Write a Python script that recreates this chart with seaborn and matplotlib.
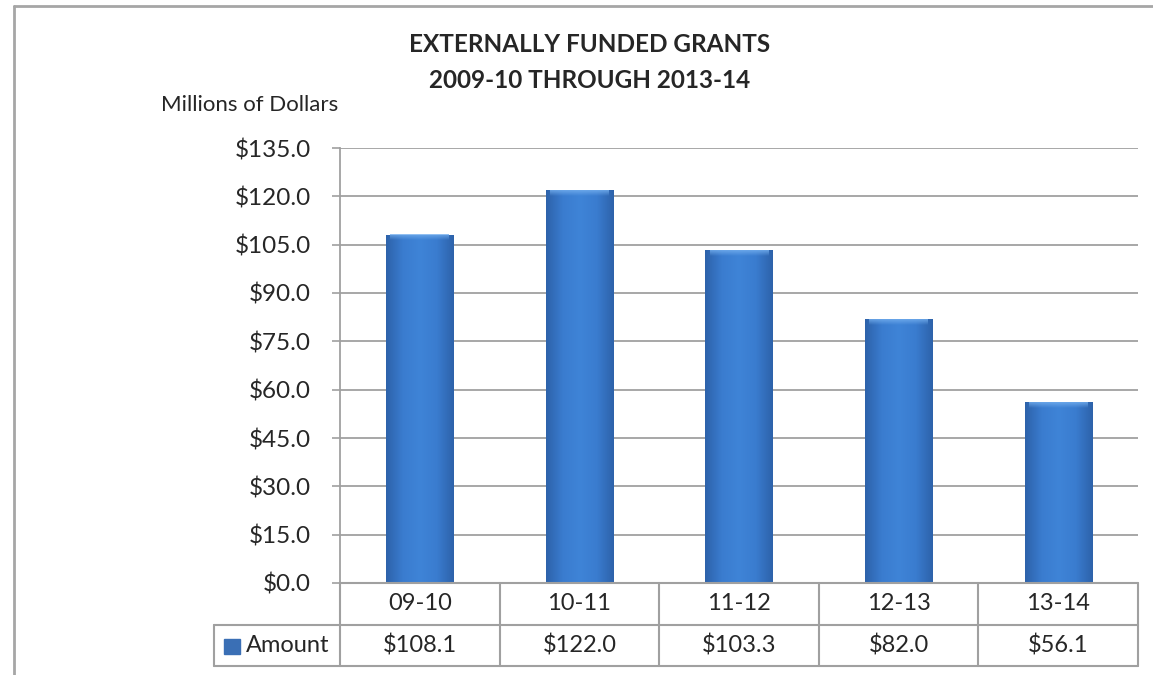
import numpy as np
import pandas as pd
import matplotlib
matplotlib.use("Agg")
import matplotlib.pyplot as plt
import matplotlib.transforms as mtransforms
from matplotlib.colors import LinearSegmentedColormap
import seaborn as sns

categories = ["09-10", "10-11", "11-12", "12-13", "13-14"]
amounts = [108.1, 122.0, 103.3, 82.0, 56.1]
y_ticks = [0, 15, 30, 45, 60, 75, 90, 105, 120, 135]
series_name = "Amount"

sns.set_theme(style="white")
plt.rcParams["font.family"] = ["Lato", "DejaVu Sans"]

W, H = 1153, 675
fig = plt.figure(figsize=(W / 100, H / 100), dpi=100)
L, R, T, B = 340, 1138, 148, 583
ax = fig.add_axes([L / W, 1 - B / H, (R - L) / W, (B - T) / H])

df = pd.DataFrame({"cat": categories, "val": amounts})
sns.barplot(data=df, x="cat", y="val", ax=ax, color="#3a7cd0", width=0.42,
            saturation=1, edgecolor="none", zorder=3)

ax.set_ylim(0, 135)
ax.set_xlim(-0.5, len(categories) - 0.5)
ax.set_yticks(y_ticks)
ax.set_yticklabels([f"${v:.1f}" for v in y_ticks], fontsize=17.5)
ax.tick_params(axis="y", which="both", left=True, length=6, width=1.2,
               color="#a0a0a0", pad=15)
ax.set_xticks(range(len(categories)))
ax.set_xticklabels(categories, fontsize=17)
ax.tick_params(axis="x", length=0, pad=7)
ax.set_xlabel("")
ax.set_ylabel("")
ax.grid(axis="y", color="#a0a0a0", lw=1.3, zorder=0)
ax.set_axisbelow(True)
for s in ["top", "right", "bottom"]:
    ax.spines[s].set_visible(False)
ax.spines["left"].set_color("#a0a0a0")
ax.spines["left"].set_linewidth(1.3)

# gradient fill for bars
cmap = LinearSegmentedColormap.from_list(
    "bar", ["#2d62aa", "#3a7ccf", "#3f84d7", "#3a7ccf", "#2d62aa"])
grad = np.linspace(0, 1, 256).reshape(1, -1)
for p in ax.patches:
    x0, y0 = p.get_x(), p.get_y()
    w, h = p.get_width(), p.get_height()
    im = ax.imshow(grad, extent=[x0, x0 + w, y0, y0 + h], aspect="auto",
                   cmap=cmap, zorder=4, interpolation="bilinear")
    im.set_clip_path(p)
    # soft top bevel
    bev = np.linspace(0, 1, 64).reshape(-1, 1)
    rgba = np.zeros((64, 1, 4))
    rgba[..., 0] = 0.45
    rgba[..., 1] = 0.68
    rgba[..., 2] = 0.93
    rgba[..., 3] = (1 - bev) * 0.85
    ax.imshow(rgba, extent=[x0 + w * 0.06, x0 + w * 0.94, y0 + h - 1.8, y0 + h],
              aspect="auto", zorder=5, interpolation="bilinear", origin="upper")
    ax.set_xlim(-0.5, len(categories) - 0.5)
    ax.set_ylim(0, 135)

# data table under the axis
gray = "#a0a0a0"
row_h = 41.5 / (B - T)
leg_left = (214 - L) / (R - L)
tr = mtransforms.blended_transform_factory(ax.transData, ax.transAxes)
n = len(categories)
kw = dict(color=gray, lw=1.5, clip_on=False, zorder=6)
ax.plot([-0.5, n - 0.5], [0, 0], transform=tr, **kw)
for i in range(n + 1):
    ax.plot([i - 0.5, i - 0.5], [0, -2 * row_h], transform=tr, **kw)
ax.plot([leg_left, 1], [-row_h, -row_h], transform=ax.transAxes, **kw)
ax.plot([leg_left, 1], [-2 * row_h, -2 * row_h], transform=ax.transAxes, **kw)
ax.plot([leg_left, leg_left], [-row_h, -2 * row_h], transform=ax.transAxes, **kw)
for i, v in enumerate(amounts):
    ax.text(i, -1.5 * row_h, f"${v:.1f}", transform=tr, ha="center",
            va="center", fontsize=17)
# legend entry
px = 1 / (R - L)
py = 1 / (B - T)
ax.text((246 - L) * px, -1.5 * row_h, series_name, transform=ax.transAxes,
        ha="left", va="center", fontsize=17)
ax.add_patch(plt.Rectangle(((224 - L) * px, (B - 654) * py), 16 * px, 15 * py,
                           transform=ax.transAxes, color="#3a6fb5",
                           clip_on=False, zorder=7))

fig.text(590 / W, 1 - 45 / H, "EXTERNALLY FUNDED GRANTS", ha="center",
         va="center", fontsize=17.5, fontweight="bold")
fig.text(590 / W, 1 - 80 / H, "2009-10 THROUGH 2013-14", ha="center",
         va="center", fontsize=17.5, fontweight="bold")
fig.text(250 / W, 1 - 105 / H, "Millions of Dollars", ha="center",
         va="center", fontsize=16)

# chart frame (left and top)
fig.add_artist(plt.Line2D([14 / W, 14 / W], [0, 1 - 6 / H], color="#a6a6a6",
                          lw=2, transform=fig.transFigure))
fig.add_artist(plt.Line2D([14 / W, 1], [1 - 6 / H, 1 - 6 / H], color="#a6a6a6",
                          lw=2, transform=fig.transFigure))

fig.savefig("out.png", dpi=100)
